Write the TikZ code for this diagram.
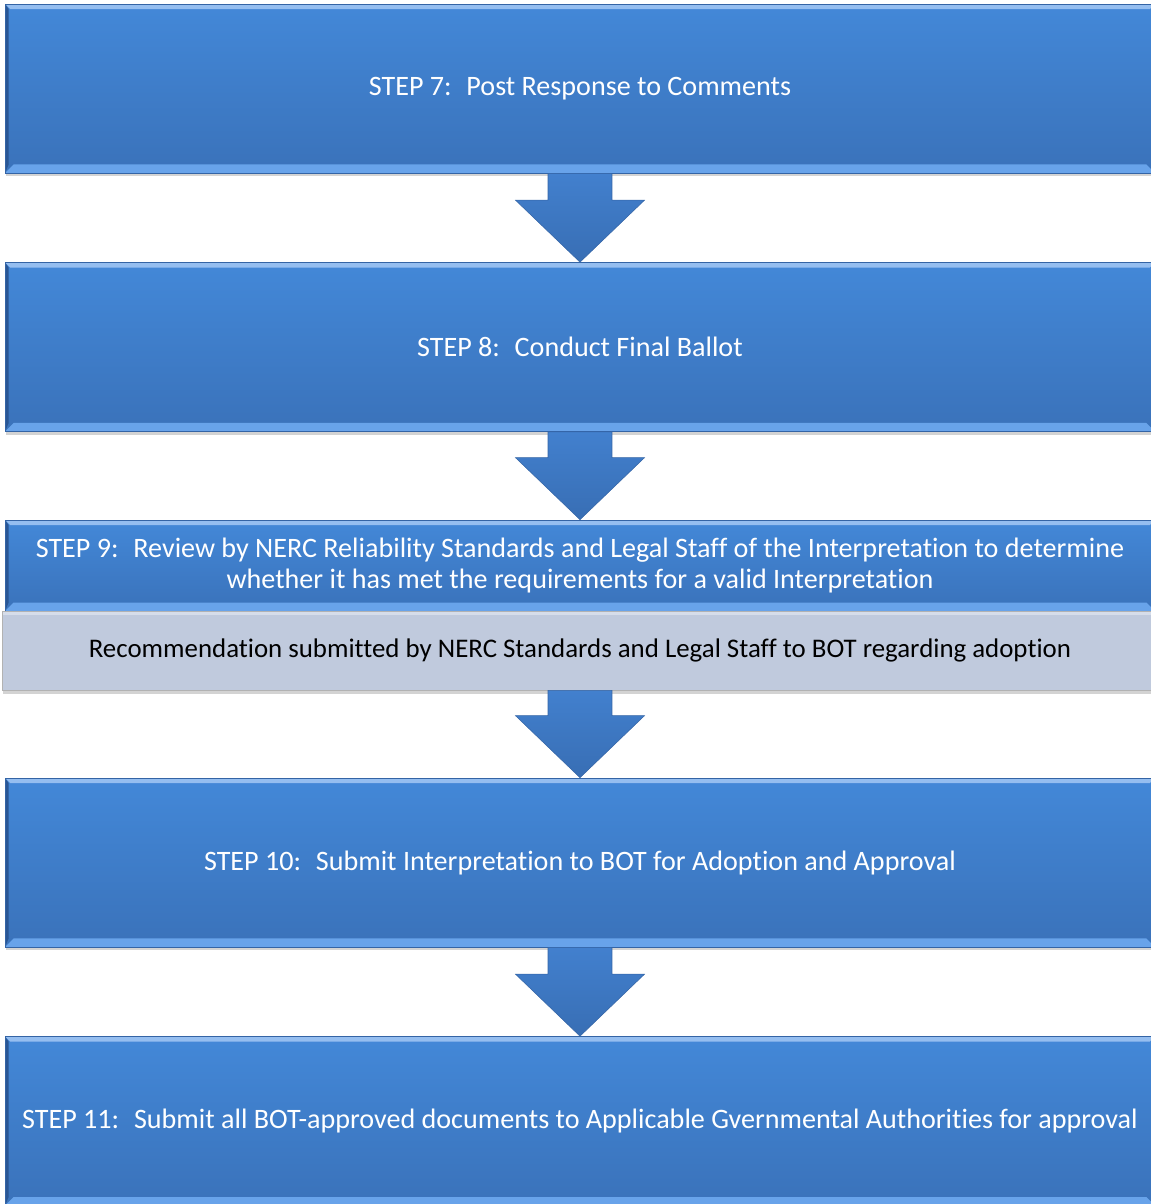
\documentclass[tikz,border=0pt]{standalone}
\usepackage{fontspec}
\setmainfont{Carlito}[Ligatures=NoCommon]
\usetikzlibrary{shadows}
\definecolor{boxtop}{RGB}{67,136,216}
\definecolor{boxbot}{RGB}{58,114,186}
\definecolor{boxedge}{RGB}{52,100,165}
\definecolor{bevlight}{RGB}{104,163,234}
\definecolor{bevdark}{RGB}{42,86,148}
\definecolor{notefill}{RGB}{192,202,221}
\definecolor{notelight}{RGB}{214,221,234}
\definecolor{arrowtop}{RGB}{66,128,206}
\definecolor{arrowbot}{RGB}{56,110,180}
\tikzset{
  bevel/.style={path picture={
    \fill[bevlight] (path picture bounding box.south west) -- (path picture bounding box.south east)
      -- ([shift={(-0.17cm,0.17cm)}]path picture bounding box.south east)
      -- ([shift={(0.17cm,0.17cm)}]path picture bounding box.south west) -- cycle;
    \fill[bevlight!70!white] (path picture bounding box.north west) -- (path picture bounding box.north east)
      -- ([shift={(-0.1cm,-0.1cm)}]path picture bounding box.north east)
      -- ([shift={(0.1cm,-0.1cm)}]path picture bounding box.north west) -- cycle;
    \fill[bevdark] (path picture bounding box.north west) -- ([shift={(0.07cm,-0.1cm)}]path picture bounding box.north west)
      -- ([shift={(0.07cm,0.17cm)}]path picture bounding box.south west) -- (path picture bounding box.south west) -- cycle;
  }},
  stepbox/.style={draw=boxedge, top color=boxtop, bottom color=boxbot, text=white, align=center,
    inner sep=0pt, minimum width=23cm, minimum height=3.38cm, font=\fontsize{16}{17.6}\selectfont,
    drop shadow={shadow xshift=0.02cm, shadow yshift=-0.07cm, opacity=0.35}, bevel},
  notebox/.style={draw=gray!60, fill=notefill, text=black, align=center, inner sep=0pt,
    minimum width=23.12cm, minimum height=1.58cm, font=\fontsize{15.3}{17}\selectfont,
    drop shadow={shadow xshift=0.02cm, shadow yshift=-0.07cm, opacity=0.35},
    path picture={\fill[notelight] (path picture bounding box.north west) rectangle ([yshift=-0.08cm]path picture bounding box.north east);}},
  blockarrow/.style={top color=arrowtop, bottom color=arrowbot, draw=boxedge, line width=0.3pt},
}
\newcommand{\downblock}[2]{%
  \path[blockarrow] ([xshift=-0.64cm]#1.south) -- ([xshift=0.64cm]#1.south)
    -- ([xshift=0.64cm,yshift=1.24cm]#2.north) -- ([xshift=1.29cm,yshift=1.24cm]#2.north)
    -- (#2.north) -- ([xshift=-1.29cm,yshift=1.24cm]#2.north)
    -- ([xshift=-0.64cm,yshift=1.24cm]#2.north) -- cycle;}

\begin{document}
\begin{tikzpicture}[x=0.02cm, y=-0.02cm]
\useasboundingbox (0,0) rectangle (1150,1204);

\node[stepbox] (s7) at (580,88.5) {STEP 7:~ Post Response to Comments};
\node[stepbox] (s8) at (580,347) {STEP 8:~ Conduct Final Ballot};
\node[stepbox, minimum height=1.82cm] (s9) at (580,565.5) {STEP 9:~ Review by NERC Reliability Standards and Legal Staff of the Interpretation to determine\\whether it has met the requirements for a valid Interpretation};
\node[notebox] (rec) at (580,650.5) {Recommendation submitted by NERC Standards and Legal Staff to BOT regarding adoption};
\node[stepbox] (s10) at (580,862.5) {STEP 10:~ Submit Interpretation to BOT for Adoption and Approval};
\node[stepbox] (s11) at (580,1121) {STEP 11:~ Submit all BOT-approved documents to Applicable Gvernmental Authorities for approval};

\downblock{s7}{s8}
\downblock{s8}{s9}
\downblock{rec}{s10}
\downblock{s10}{s11}
\end{tikzpicture}
\end{document}
